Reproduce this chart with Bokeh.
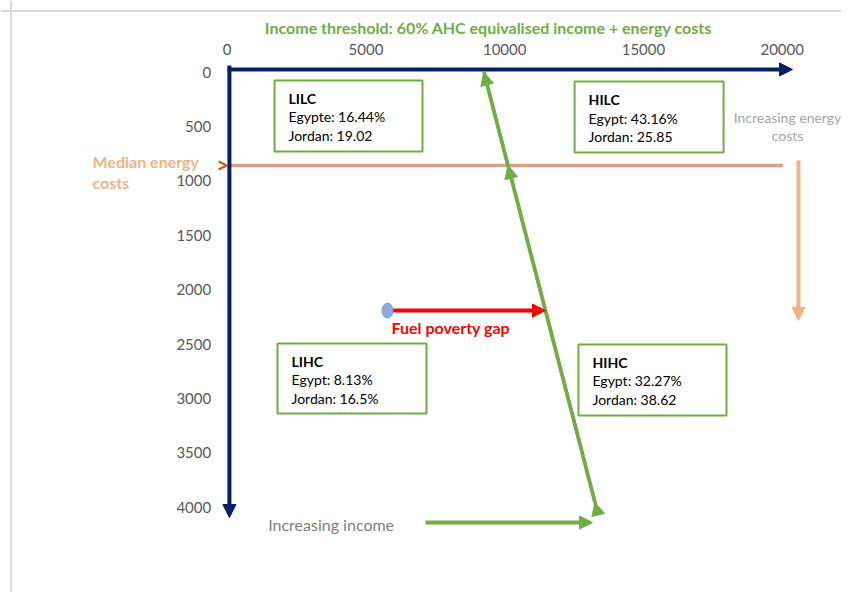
from bokeh.plotting import figure
from bokeh.models import (Range1d, LinearAxis, FixedTicker, Arrow, NormalHead,
                          OpenHead, Span)
from bokeh.core.properties import value
from bokeh.embed import file_html
from bokeh.resources import INLINE

# ---------------- data ----------------
x_ticks = [0, 5000, 10000, 15000, 20000]
y_ticks = [0, 500, 1000, 1500, 2000, 2500, 3000, 3500, 4000]

median_energy_cost = 858
threshold_x = [9250, 13350]          # income threshold line (income, energy costs)
threshold_y = [0, 4050]

gap_income = [5777, 11470]           # fuel poverty gap: household -> threshold
gap_cost = 2192

quadrants = ["LILC", "HILC", "LIHC", "HIHC"]
egypt_labels = ["Egypte: 16.44%", "Egypt: 43.16%", "Egypt: 8.13%", "Egypt: 32.27%"]
jordan_labels = ["Jordan: 19.02", "Jordan: 25.85", "Jordan: 16.5%", "Jordan: 38.62"]

# ---------------- layout constants ----------------
box_left = [1705, 12519, 1813, 12659]
box_right = [7038, 17888, 7182, 17993]
box_top = [76, 86, 2494, 2503]
box_bottom = [729, 738, 3138, 3156]

NAVY = "#002060"
GREEN = "#70AD47"
ORANGE = "#F4B183"
TAN = "#D7A385"
FONT = value("Lato")

p = figure(width=841, height=592, output_backend="svg", toolbar_location=None,
           x_range=Range1d(-8169, 22137), y_range=Range1d(4784, -659),
           x_axis_location=None, y_axis_location=None, min_border=0,
           outline_line_color=None, background_fill_color="white",
           border_fill_color="white")
p.xgrid.visible = False
p.ygrid.visible = False

# outer light frame (left & top edges)
p.add_layout(Span(location=-7791, dimension="height", line_color="#D9D9D9", line_width=2))
p.add_layout(Span(location=-563, dimension="width", line_color="#D9D9D9", line_width=2))

# axes with labels only
xa = LinearAxis(fixed_location=0, ticker=FixedTicker(ticks=x_ticks),
                axis_line_color=None, major_tick_line_color=None,
                minor_tick_line_color=None, major_tick_out=0, major_tick_in=0,
                major_label_standoff=17, major_label_text_font="Lato",
                major_label_text_font_size="15px", major_label_text_color="#595959")
p.add_layout(xa, "above")
ya = LinearAxis(fixed_location=0, ticker=FixedTicker(ticks=y_ticks),
                axis_line_color=None, major_tick_line_color=None,
                minor_tick_line_color=None, major_tick_out=0, major_tick_in=0,
                major_label_standoff=16, major_label_text_font="Lato",
                major_label_text_font_size="15px", major_label_text_color="#595959")
p.add_layout(ya, "left")

# quadrant boxes
p.quad(left=box_left, right=box_right, top=box_top, bottom=box_bottom,
       fill_color="white", line_color=GREEN, line_width=2)
p.text(x=box_left, y=box_top, text=quadrants, x_offset=14, y_offset=18,
       text_font=FONT, text_font_size="14px", text_font_style="bold",
       text_color="black", text_align="left", text_baseline="middle")
p.text(x=box_left, y=box_top, text=egypt_labels, x_offset=14, y_offset=36.5,
       text_font=FONT, text_font_size="14px",
       text_color="black", text_align="left", text_baseline="middle")
p.text(x=box_left, y=box_top, text=jordan_labels, x_offset=14, y_offset=55,
       text_font=FONT, text_font_size="14px",
       text_color="black", text_align="left", text_baseline="middle")

# median energy costs line
p.line(x=[119, 20022], y=[median_energy_cost, median_energy_cost],
       line_color=TAN, line_width=3.5)
p.add_layout(Arrow(x_start=-700, y_start=median_energy_cost, x_end=-20,
                   y_end=median_energy_cost, line_alpha=0,
                   end=OpenHead(size=8, line_color="#C55A11", line_width=2)))

# income threshold line with arrow heads
tx0, tx1 = threshold_x
ty0, ty1 = threshold_y
def on_threshold(yv):
    return tx0 + (tx1 - tx0) * (yv - ty0) / (ty1 - ty0)
p.line(x=threshold_x, y=threshold_y, line_color=GREEN, line_width=3.5)
head_ys = [ty1, 3955, median_energy_cost, ty0]
for ya_, yb_ in zip(head_ys[:-1], head_ys[1:]):
    p.add_layout(Arrow(x_start=on_threshold(ya_), y_start=ya_,
                       x_end=on_threshold(yb_), y_end=yb_,
                       line_color=GREEN, line_width=3.5,
                       end=NormalHead(size=13, fill_color=GREEN, line_color=GREEN)))

# fuel poverty gap
p.add_layout(Arrow(x_start=gap_income[0], y_start=gap_cost, x_end=gap_income[1],
                   y_end=gap_cost, line_color="#FF0000", line_width=4,
                   end=NormalHead(size=13, fill_color="#FF0000", line_color="#FF0000")))
p.ellipse(x=[gap_income[0]], y=[gap_cost], width=11, height=15,
          width_units="screen", height_units="screen",
          fill_color="#8FAADC", line_color="#7F9BD0", level="overlay")
p.text(x=[5921], y=[2348], text=["Fuel poverty gap"], text_font=FONT,
       text_font_size="16px", text_font_style="bold", text_color="#FF0000",
       text_align="left", text_baseline="middle")

# increasing energy costs arrow
p.add_layout(Arrow(x_start=20587, y_start=812, x_end=20587, y_end=2283,
                   line_color=ORANGE, line_width=4,
                   end=NormalHead(size=13, fill_color=ORANGE, line_color=ORANGE)))
p.text(x=[20190, 20190], y=[417, 582], text=["Increasing energy", "costs"],
       text_font=FONT, text_font_size="14px", text_color="#A6A6A6",
       text_align="center", text_baseline="middle")

# increasing income arrow
p.add_layout(Arrow(x_start=7146, y_start=4141, x_end=13168, y_end=4141,
                   line_color=GREEN, line_width=4,
                   end=NormalHead(size=13, fill_color=GREEN, line_color=GREEN)))
p.text(x=[1477], y=[4159], text=["Increasing income"], text_font=FONT,
       text_font_size="16px", text_color="#7F7F7F",
       text_align="left", text_baseline="middle")

# blue axes arrows
p.add_layout(Arrow(x_start=11, y_start=-25, x_end=20371, y_end=-25,
                   line_color=NAVY, line_width=4,
                   end=NormalHead(size=13, fill_color=NAVY, line_color=NAVY)))
p.add_layout(Arrow(x_start=80, y_start=-62, x_end=80, y_end=4095,
                   line_color=NAVY, line_width=4,
                   end=NormalHead(size=13, fill_color=NAVY, line_color=NAVY)))

# labels
p.text(x=[-4854, -4854], y=[821, 1014], text=["Median energy", "costs"],
       text_font=FONT, text_font_size="16px", text_font_style="bold",
       text_color=ORANGE, text_align="left", text_baseline="middle")
p.text(x=[9416], y=[-411],
       text=["Income threshold: 60% AHC equivalised income + energy costs"],
       text_font=FONT, text_font_size="16px", text_font_style="bold",
       text_color=GREEN, text_align="center", text_baseline="middle")

open("out.html", "w").write(file_html(p, INLINE))
